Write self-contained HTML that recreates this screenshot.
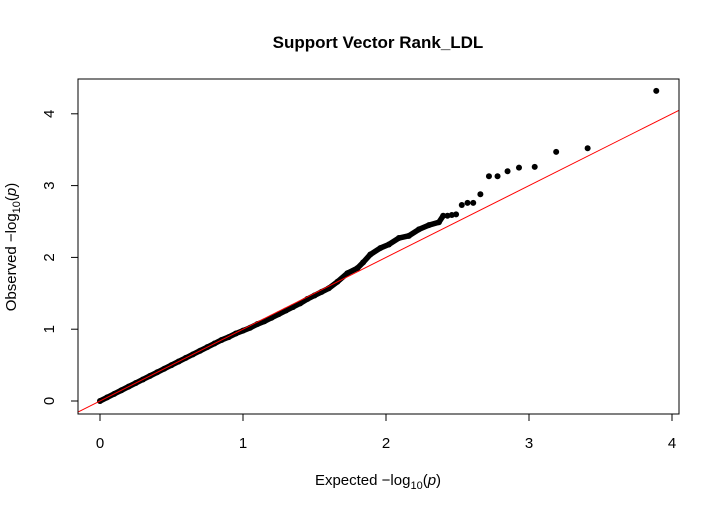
<!DOCTYPE html>
<html><head><meta charset="utf-8"><style>
html,body{margin:0;padding:0;background:#fff;}
svg{display:block;font-family:"Liberation Sans",Arial,sans-serif;}
</style></head><body>
<svg id="chart" width="719" height="512" viewBox="0 0 719 512" xmlns="http://www.w3.org/2000/svg">
<rect width="719" height="512" fill="#fff"/>
<text x="378" y="48" text-anchor="middle" font-size="17" font-weight="bold">Support Vector Rank_LDL</text>
<g id="axes"></g>
<g id="marks"></g>
<rect x="78" y="79" width="601" height="335" fill="none" stroke="#000" stroke-width="1"/>
<text x="378" y="485" text-anchor="middle" font-size="15">Expected  −log<tspan font-size="11" dy="4">10</tspan><tspan dy="-4">(</tspan><tspan font-style="italic">p</tspan>)</text>
<text transform="translate(16,247) rotate(-90)" text-anchor="middle" font-size="15">Observed  −log<tspan font-size="11" dy="4">10</tspan><tspan dy="-4">(</tspan><tspan font-style="italic">p</tspan>)</text>
</svg>
<script>
const xTicks = [0, 1, 2, 3, 4];
const yTicks = [0, 1, 2, 3, 4];
const expected = [0,0.05,0.1,0.15,0.2,0.25,0.3,0.35,0.4,0.45,0.5,0.55,0.6,0.65,0.7,0.75,0.8,0.85,0.9,0.95,1.0,1.05,1.1,1.15,1.2,1.25,1.3,1.35,1.4,1.45,1.5,1.55,1.6,1.66,1.73,1.80,1.84,1.89,1.96,2.02,2.09,2.16,2.23,2.30,2.37,2.40,2.43,2.46,2.49,2.53,2.57,2.61,2.66,2.72,2.78,2.85,2.93,3.04,3.19,3.41,3.89];
const observed = [0,0.05,0.1,0.15,0.2,0.25,0.3,0.35,0.4,0.45,0.5,0.55,0.6,0.65,0.7,0.75,0.8,0.85,0.89,0.94,0.98,1.02,1.07,1.11,1.16,1.21,1.26,1.31,1.36,1.42,1.47,1.52,1.57,1.66,1.78,1.85,1.93,2.04,2.13,2.18,2.27,2.30,2.39,2.45,2.49,2.58,2.58,2.59,2.60,2.73,2.76,2.76,2.88,3.13,3.13,3.20,3.25,3.26,3.47,3.52,4.32];
const NS='http://www.w3.org/2000/svg';
const X0=78,X1=679,Y0=79,Y1=414;
function sx(v){return 100+v*143;}
function sy(v){return 401-v*71.8;}
const axes=document.getElementById('axes');
const marks=document.getElementById('marks');
xTicks.forEach(t=>{
  const l=document.createElementNS(NS,'line');
  l.setAttribute('x1',sx(t));l.setAttribute('x2',sx(t));l.setAttribute('y1',Y1);l.setAttribute('y2',Y1+7);l.setAttribute('stroke','#000');
  
  
  axes.appendChild(l);
  const tx=document.createElementNS(NS,'text');
  tx.setAttribute('x',sx(t));tx.setAttribute('y',448);tx.setAttribute('text-anchor','middle');tx.setAttribute('font-size','15');tx.textContent=t;
  
  
  axes.appendChild(tx);
});
yTicks.forEach(t=>{
  const l=document.createElementNS(NS,'line');
  l.setAttribute('x1',X0-7);l.setAttribute('x2',X0);l.setAttribute('y1',sy(t));l.setAttribute('y2',sy(t));l.setAttribute('stroke','#000');
  
  
  axes.appendChild(l);
  const tx=document.createElementNS(NS,'text');
  tx.setAttribute('transform','translate(54,'+sy(t)+') rotate(-90)');tx.setAttribute('text-anchor','middle');tx.setAttribute('font-size','15');tx.textContent=t;
  
  
  axes.appendChild(tx);
});
let d='';
for(let i=0;i<expected.length&&expected[i]<=2.4;i++){d+=(i?'L':'M')+sx(expected[i])+','+sy(observed[i]);}
const band=document.createElementNS(NS,'path');
band.setAttribute('d',d);band.setAttribute('fill','none');band.setAttribute('stroke','#000');band.setAttribute('stroke-width','5.5');band.setAttribute('stroke-linecap','round');band.setAttribute('stroke-linejoin','round');


marks.appendChild(band);
for(let i=0;i<expected.length;i++){
  const c=document.createElementNS(NS,'circle');
  c.setAttribute('cx',sx(expected[i]));c.setAttribute('cy',sy(observed[i]));c.setAttribute('r','3');c.setAttribute('fill','#000');
  
  
  marks.appendChild(c);
}
const ref=document.createElementNS(NS,'line');
const ex0=(X0-100)/143, ex1=(X1-100)/143;
ref.setAttribute('x1',X0);ref.setAttribute('y1',sy(ex0));ref.setAttribute('x2',X1);ref.setAttribute('y2',sy(ex1));
ref.setAttribute('stroke','#ff0000');ref.setAttribute('stroke-width','1');


marks.appendChild(ref);
</script>
</body></html>
